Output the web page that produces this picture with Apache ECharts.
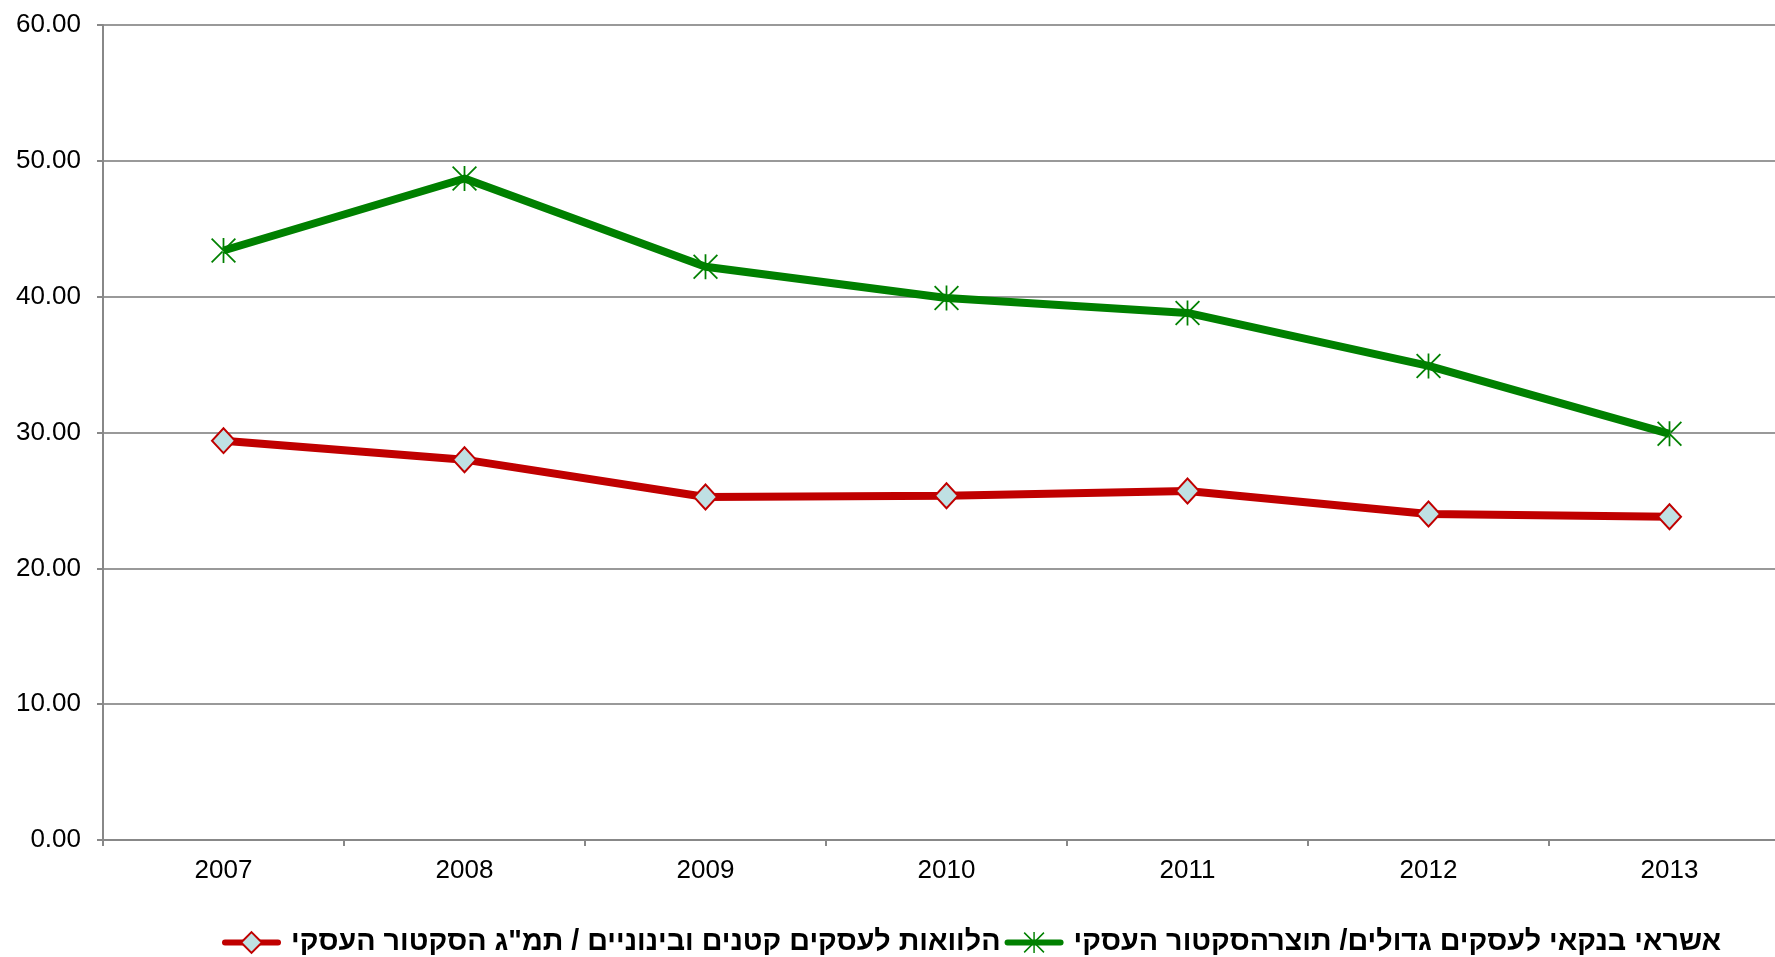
<!DOCTYPE html>
<html>
<head>
<meta charset="utf-8">
<script src="https://cdn.jsdelivr.net/npm/echarts@6/dist/echarts.min.js"></script>
<style>
  html, body { margin: 0; padding: 0; background: #fff; }
  #chart { width: 1775px; height: 957px; }
</style>
</head>
<body>
<div id="chart"></div>
<script>
const years = ['2007', '2008', '2009', '2010', '2011', '2012', '2013']
const smeName = 'הלוואות לעסקים קטנים ובינוניים / תמ"ג הסקטור העסקי'
const largeName = 'אשראי בנקאי לעסקים גדולים/ תוצרהסקטור העסקי'
const smeValues = [29.4, 28.0, 25.25, 25.35, 25.7, 24.0, 23.8]
const largeValues = [43.4, 48.7, 42.2, 39.9, 38.8, 34.9, 29.9]

const asterisk = 'path://M9.3 0 H10.7 V20 H9.3 Z M0 1 L1 0 L20 19 L19 20 Z M20 1 L19 0 L0 19 L1 20 Z'
const font = '"Liberation Sans", Arial, "DejaVu Sans", sans-serif'

const chart = echarts.init(document.getElementById('chart'))
chart.setOption({
  animation: false,
  textStyle: { fontFamily: font },
  // plot runs a little past the right edge, as in the original
  grid: { left: 103, width: 1687, top: 25, bottom: 117, containLabel: false, outerBoundsMode: 'none' },
  legend: {
    left: 217,
    top: 923,
    itemWidth: 53,
    itemHeight: 26,
    itemGap: 4,
    lineStyle: { width: 6, cap: 'round' },
    textStyle: { fontSize: 28.7, fontWeight: 'bold', color: '#000', fontFamily: font, padding: [0, 0, 0, 8] },
    data: [smeName, largeName]
  },
  xAxis: {
    type: 'category',
    data: years,
    axisLine: { lineStyle: { color: '#888', width: 2 } },
    axisTick: { show: true, length: 6, lineStyle: { color: '#888', width: 2 } },
    axisLabel: { fontSize: 26, color: '#000', margin: 18 }
  },
  yAxis: {
    type: 'value',
    min: 0,
    max: 60,
    interval: 10,
    axisLine: { show: true, lineStyle: { color: '#888', width: 2 } },
    axisTick: { show: true, length: 6, lineStyle: { color: '#888', width: 2 } },
    axisLabel: { fontSize: 26, color: '#000', margin: 22, formatter: v => v.toFixed(2) },
    splitLine: { lineStyle: { color: '#999', width: 2 } }
  },
  series: [
    {
      name: smeName,
      type: 'line',
      data: smeValues,
      symbol: 'diamond',
      symbolSize: [23, 25],
      showAllSymbol: true,
      lineStyle: { color: '#c00000', width: 8 },
      itemStyle: { color: '#bfe0e3', borderColor: '#c00000', borderWidth: 2 }
    },
    {
      name: largeName,
      type: 'line',
      data: largeValues,
      symbol: asterisk,
      symbolSize: 25,
      showAllSymbol: true,
      lineStyle: { color: '#008000', width: 8 },
      itemStyle: { color: '#008000', borderWidth: 0 }
    }
  ]
})
</script>
</body>
</html>
